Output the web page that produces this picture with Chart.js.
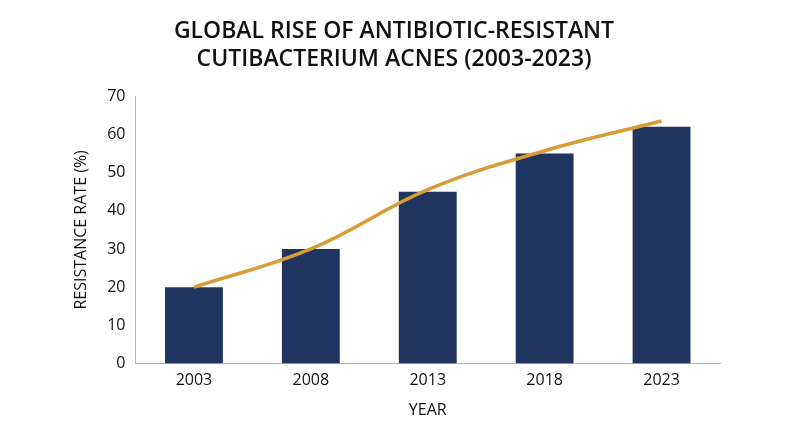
<!DOCTYPE html>
<html>
<head>
<meta charset="utf-8">
<script src="https://cdn.jsdelivr.net/npm/chart.js@4"></script>
<style>
  html, body { margin: 0; padding: 0; background: #fff; }
  #wrap { width: 800px; height: 447px; }
</style>
</head>
<body>
<div id="wrap"><canvas id="resistanceChart"></canvas></div>
<script>
const years = ['2003', '2008', '2013', '2018', '2023'];
const resistanceRates = [20, 30, 45, 55, 62];
const trendRates = [20, 30, 45.5, 55.7, 63.5];
const yTicks = [0, 10, 20, 30, 40, 50, 60, 70];

const fontFamily = "'Open Sans', 'Noto Sans', sans-serif";

const ctx = document.getElementById('resistanceChart').getContext('2d');

new Chart(ctx, {
  data: {
    labels: years,
    datasets: [{
      type: 'line',
      label: 'Trend',
      data: trendRates,
      borderColor: '#d99a38',
      borderWidth: 3.5,
      pointRadius: 0,
      tension: 0.4,
      fill: false,
      order: 0
    }, {
      type: 'bar',
      label: 'Resistance rate',
      data: resistanceRates,
      backgroundColor: '#1f345e',
      barPercentage: 0.55,
      categoryPercentage: 0.9,
      order: 1
    }]
  },
  options: {
    responsive: true,
    maintainAspectRatio: false,
    animation: false,
    layout: {
      padding: { left: 68, right: 80, top: 17, bottom: 23 }
    },
    scales: {
      x: {
        grid: { display: false, drawTicks: false },
        border: { color: '#b5b5b5', width: 1 },
        ticks: {
          color: '#111',
          font: { family: fontFamily, size: 16 },
          padding: 7
        },
        title: {
          display: true,
          text: 'YEAR',
          color: '#111',
          font: { family: fontFamily, size: 16 },
          padding: { top: 4 }
        }
      },
      y: {
        min: 0,
        max: 70,
        afterBuildTicks: axis => {
          axis.ticks = yTicks.map(v => ({ value: v }));
        },
        grid: { display: false, drawTicks: false },
        border: { color: '#b5b5b5', width: 1 },
        ticks: {
          color: '#111',
          font: { family: fontFamily, size: 16 },
          padding: 10
        },
        title: {
          display: true,
          text: 'RESISTANCE RATE (%)',
          color: '#111',
          font: { family: fontFamily, size: 16 },
          padding: { bottom: 6 }
        }
      }
    },
    plugins: {
      legend: { display: false },
      tooltip: { enabled: false },
      title: {
        display: true,
        text: ['GLOBAL RISE OF ANTIBIOTIC-RESISTANT', 'CUTIBACTERIUM ACNES (2003-2023)'],
        color: '#111',
        font: { family: fontFamily, size: 23, weight: '600', lineHeight: 1.22 },
        padding: { top: 0, bottom: 23 }
      }
    }
  }
});
</script>
</body>
</html>
